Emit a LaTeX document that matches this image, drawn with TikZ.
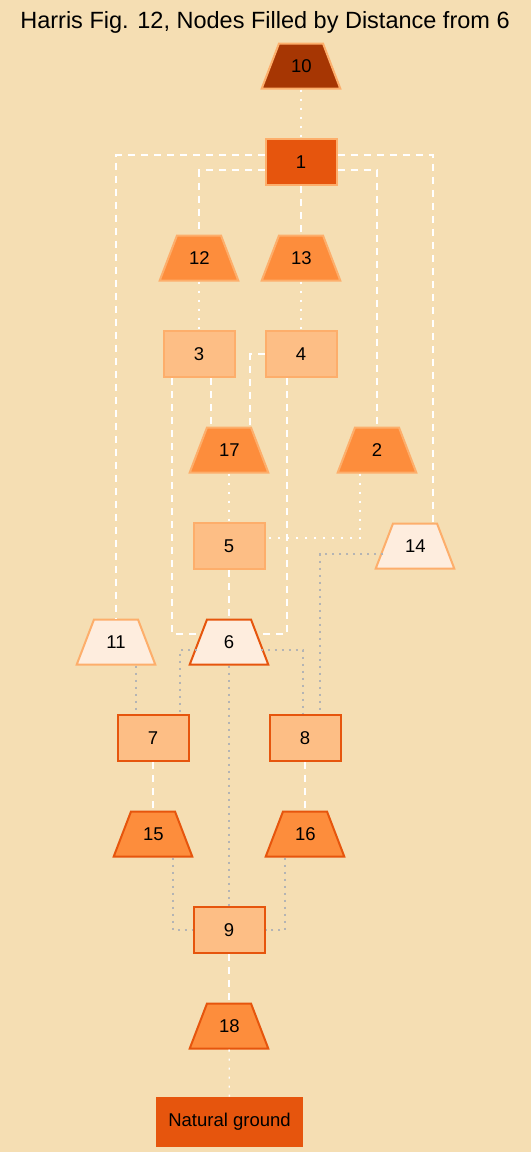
\documentclass[tikz,border=0pt]{standalone}
\usepackage{fontspec}
\setmainfont{Liberation Sans}
\usetikzlibrary{shapes.geometric}
\definecolor{bgwheat}{HTML}{F5DEB3}
\definecolor{orA}{HTML}{FEEDDE}
\definecolor{orB}{HTML}{FDBE85}
\definecolor{orC}{HTML}{FD8D3C}
\definecolor{orD}{HTML}{E6550D}
\definecolor{orE}{HTML}{A63603}
\definecolor{lineor}{HTML}{FDAE6B}
\definecolor{edgegray}{HTML}{B4B4B4}
\tikzstyle{unit} = [draw=lineor,line width=2pt,inner sep=0pt,font=\fontsize{18.5}{20}\selectfont]
\tikzstyle{box} = [unit,rectangle,minimum width=71pt,minimum height=46pt]
\tikzstyle{trap} = [unit,trapezium,trapezium left angle=69,trapezium right angle=69,text width=20pt,align=center,text height=13pt,text depth=0pt,inner xsep=12pt,inner ysep=16pt]
\tikzstyle{wdash} = [white,line width=1.3pt,dash pattern=on 7pt off 6pt]
\tikzstyle{wdot} = [white,line width=1.3pt,dash pattern=on 2pt off 7pt]
\tikzstyle{gdot} = [edgegray,line width=1.3pt,dash pattern=on 2pt off 5pt]

\begin{document}
\begin{tikzpicture}[x=1pt,y=-1pt]
\useasboundingbox[fill=bgwheat] (0,0) rectangle (531,1152);
\node[font=\fontsize{23.5}{26}\selectfont] (title) at (265,22) {Harris Fig. 12, Nodes Filled by Distance from 6};
% contexts
\node[trap,fill=orE] (n10) at (301,66) {10};
\node[box,fill=orD] (n1) at (301,162) {1};
\node[trap,fill=orC] (n12) at (199,258) {12};
\node[trap,fill=orC] (n13) at (301,258) {13};
\node[box,fill=orB] (n3) at (199,354) {3};
\node[box,fill=orB] (n4) at (301,354) {4};
\node[trap,fill=orC] (n17) at (229,450) {17};
\node[trap,fill=orC] (n2) at (377,450) {2};
\node[box,fill=orB] (n5) at (229,546) {5};
\node[trap,fill=orA] (n14) at (415,546) {14};
\node[trap,fill=orA] (n11) at (116,642) {11};
\node[trap,fill=orA,draw=orD] (n6) at (229,642) {6};
\node[box,fill=orB,draw=orD] (n7) at (153,738) {7};
\node[box,fill=orB,draw=orD] (n8) at (305,738) {8};
\node[trap,fill=orC,draw=orD] (n15) at (153,834) {15};
\node[trap,fill=orC,draw=orD] (n16) at (305,834) {16};
\node[box,fill=orB,draw=orD] (n9) at (229,930) {9};
\node[trap,fill=orC,draw=orD] (n18) at (229,1026) {18};
\node[box,fill=orD,draw=orD,minimum width=145pt,minimum height=48pt] (ng) at (229.5,1122) {Natural ground};
% relations
\draw[wdot] (n10) -- (n1);
\draw[wdash] ([yshift=7pt]n1.west) -| (n11.north);
\draw[wdash] ([yshift=7pt]n1.east) -| ([xshift=18pt]n14.north);
\draw[wdash] ([yshift=-8pt]n1.west) -| (n12.north);
\draw[wdash] ([yshift=-8pt]n1.east) -| (n2.north);
\draw[wdash] (n1) -- (n13);
\draw[wdot] (n12) -- (n3);
\draw[wdot] (n13) -- (n4);
\draw[wdash] ([xshift=12pt]n3.south) -- ([xshift=12pt]n3.south |- n17.north);
\draw[wdash] ([xshift=-27pt]n3.south) |- ([yshift=8pt]n6.west);
\draw[wdash] (n4.west) -| ([xshift=21pt]n17.north);
\draw[wdash] ([xshift=-14pt]n4.south) |- ([yshift=8pt]n6.east);
\draw[wdot] (n17) -- (n5);
\draw[wdot] ([xshift=-17pt]n2.south) |- ([yshift=8pt]n5.east);
\draw[wdash] (n5) -- (n6);
\draw[gdot] ([yshift=-8pt]n14.west) -| ([xshift=15pt]n8.north);
\draw[gdot] ([yshift=-8pt]n6.west) -| ([xshift=27pt]n7.north);
\draw[gdot] ([yshift=-8pt]n6.east) -| ([xshift=-2pt]n8.north);
\draw[gdot] (n6) -- (n9);
\draw[gdot] ([xshift=20pt]n11.south) -- ([xshift=20pt]n11.south |- n7.north);
\draw[wdash] (n7) -- (n15);
\draw[wdash] (n8) -- (n16);
\draw[gdot] ([xshift=20pt]n15.south) |- (n9.west);
\draw[gdot] ([xshift=-20pt]n16.south) |- (n9.east);
\draw[wdash] (n9) -- (n18);
\draw[wdot] (n18) -- (ng);
\end{tikzpicture}
\end{document}
